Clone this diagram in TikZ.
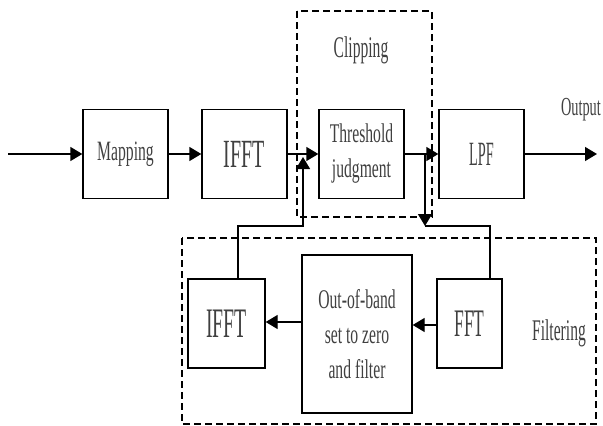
\documentclass[tikz,border=0pt]{standalone}
\usepackage{fontspec}
\setmainfont{Liberation Serif}
\usepackage{graphicx}
\usetikzlibrary{arrows.meta}

\newcommand{\nrw}[2][0.55]{\scalebox{#1}[1]{#2}}

\begin{document}
\begin{tikzpicture}[x=1pt,y=-1pt,
    blk/.style={draw,line width=1.3pt,minimum height=89pt,inner sep=0pt,text=black!75},
    lbl/.style={text=black!75,inner sep=0pt},
    ln/.style={line width=1.3pt},
    arr/.style={line width=1.3pt,-{Triangle[length=12pt,width=14pt]}},
    grp/.style={draw,line width=1.3pt,dash pattern=on 7pt off 4pt}]
  \useasboundingbox (0,0) rectangle (603,426);
  % dashed groups
  \draw[grp] (297,11) rectangle (432,217);
  \draw[grp] (182,238) rectangle (596,424);
  \node[lbl,font=\fontsize{30}{30}\selectfont] (clip) at (361,50) {\nrw[0.52]{Clipping}};
  \node[lbl,font=\fontsize{30}{30}\selectfont] (filt) at (559,333) {\nrw[0.52]{Filtering}};
  % main chain
  \coordinate (in) at (8,154);
  \node[blk,minimum width=85pt,font=\fontsize{28}{28}\selectfont] (map) at (125.5,154) {\nrw[0.56]{Mapping}};
  \node[blk,minimum width=85pt,font=\fontsize{40}{40}\selectfont] (ifft) at (244.5,154) {\nrw[0.5]{IFFT}};
  \node[blk,minimum width=85pt,align=center,font=\fontsize{27}{35}\selectfont] (thr) at (361.5,154) {\nrw[0.58]{Threshold}\\\nrw[0.58]{judgment}};
  \node[blk,minimum width=85pt,font=\fontsize{34}{34}\selectfont] (lpf) at (481.5,154) {\nrw[0.42]{LPF}};
  \coordinate (out) at (597,154);
  \node[lbl,font=\fontsize{26}{26}\selectfont] (outl) at (581,110) {\nrw{Output}};
  \draw[arr] (in) -- (map);
  \draw[arr] (map) -- (ifft);
  \draw[arr] (ifft) -- (thr);
  \draw[arr] (thr) -- (lpf);
  \draw[arr] (lpf) -- (out);
  % filtering loop
  \node[blk,minimum width=65pt,font=\fontsize{39}{39}\selectfont] (fft) at (469.5,323.5) {\nrw[0.45]{FFT}};
  \node[blk,minimum width=110pt,minimum height=158pt,align=center,font=\fontsize{27}{35}\selectfont] (oob) at (357,334) {\nrw[0.58]{Out-of-band}\\\nrw[0.58]{set to zero}\\\nrw[0.58]{and filter}};
  \node[blk,minimum width=77pt,font=\fontsize{42}{42}\selectfont] (ifftb) at (226.5,323.5) {\nrw[0.47]{IFFT}};
  \draw[arr] (fft.west |- 0,325) -- (oob.east |- 0,325);
  \draw[arr] (oob.west |- 0,322) -- (ifftb.east |- 0,322);
  % taps to and from the main chain
  \coordinate (tap) at (425,154);
  \coordinate (fb1) at (425,226);
  \coordinate (fb2) at (490,226);
  \coordinate (fb3) at (238,226);
  \coordinate (fb4) at (303,226);
  \coordinate (up) at (303,157);
  \draw[arr] (tap) -- (fb1);
  \draw[ln] (fb1) -- (fb2) -- (fb2 |- fft.north);
  \draw[arr] (fb3 |- ifftb.north) -- (fb3) -- (fb4) -- (up);
\end{tikzpicture}
\end{document}
